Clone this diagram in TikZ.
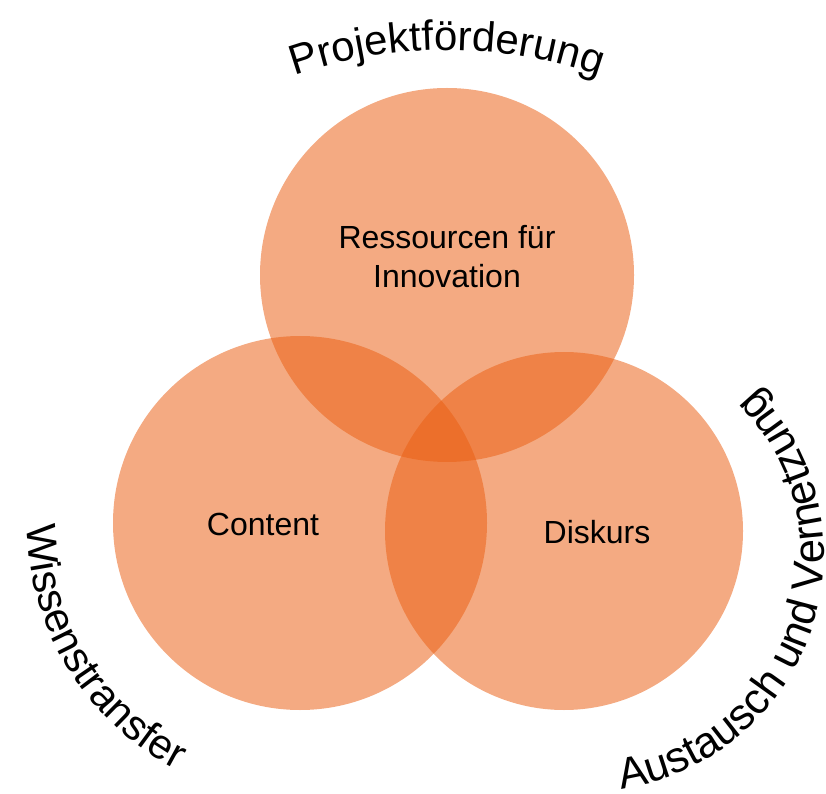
\documentclass[tikz,border=0pt]{standalone}
\usepackage{fontspec}
\setmainfont{Liberation Sans}
\usetikzlibrary{decorations.text}
\definecolor{vennorange}{RGB}{234,95,19}
\newcommand\curvefont{\fontsize{42}{42}\selectfont}
\newcommand\curvefontR{\fontsize{43.5}{43.5}\selectfont}
\begin{document}
\begin{tikzpicture}[x=1pt,y=1pt,
  venn/.style={fill=vennorange, fill opacity=0.53},
  innertext/.style={font=\fontsize{32}{39}\selectfont, align=center, text=black, inner sep=0pt},
  curved/.style={decorate, decoration={text along path, text={|\curvefont|#1}, text align=center}},
  curvedR/.style={decorate, decoration={text along path, text={|\curvefontR|#1}, text align=center}}
]
\useasboundingbox (0,0) rectangle (826,793);
\fill[venn] (447,518) circle[radius=187];
\fill[venn] (300,270) circle[radius=187];
\fill[venn] (564,262) circle[radius=179];
\node[innertext] (res) at (447,536) {Ressourcen für\\Innovation};
\node[innertext] (con) at (263,269) {Content};
\node[innertext] (dis) at (597,261) {Diskurs};
\path[curved=Projektförderung] (447,285) ++(114:458) arc[start angle=114, end angle=66, radius=458];
\path[curved=Wissenstransfer] (305,270) ++(170:278) arc[start angle=170, end angle=253, radius=278];
\path[curvedR=Austausch und Vernetzung] (588,238) ++(-100:236) arc[start angle=-100, end angle=63, radius=236];
\end{tikzpicture}
\end{document}
